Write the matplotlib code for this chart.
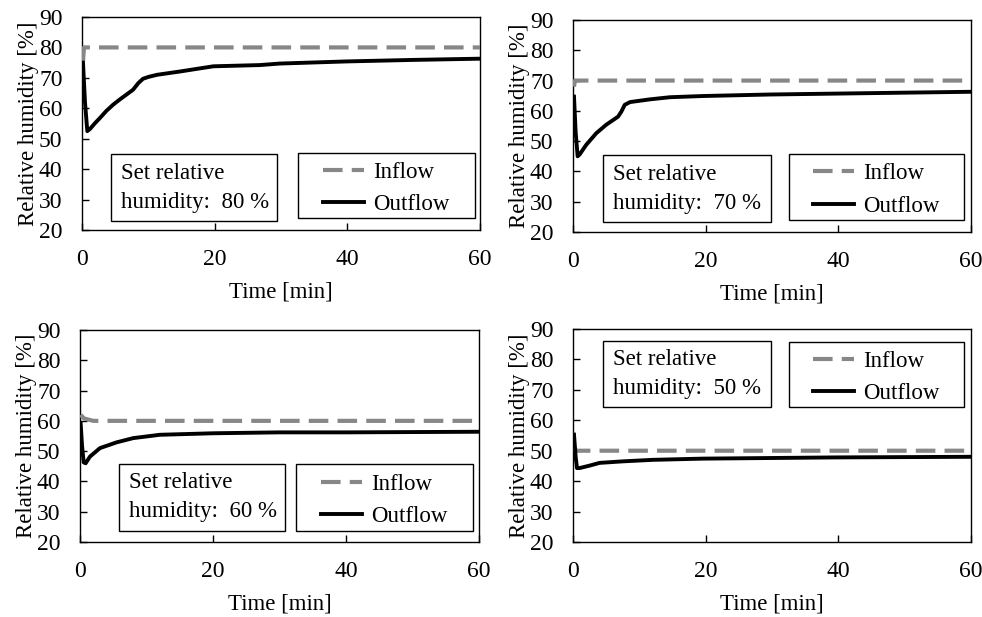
import matplotlib
matplotlib.use("Agg")
import matplotlib.pyplot as plt
from matplotlib.patches import Rectangle

plt.rcParams['font.family'] = ['Liberation Serif', 'DejaVu Serif']

# ---- data ----
set_rh = [80, 70, 60, 50]

t_out80 = [0.15, 0.45, 0.8, 1.2, 2.0, 2.7, 3.7, 4.7, 5.7, 6.7, 7.7, 8.5, 9.2, 10, 11.3, 14.8, 19.8, 26.8, 29.8, 39.9, 50, 60]
out80 = [75.0, 62.0, 52.5, 53.2, 55.2, 56.8, 59.2, 61.2, 62.9, 64.5, 66.1, 68.3, 69.7, 70.3, 71.0, 72.1, 73.8, 74.2, 74.7, 75.4, 75.9, 76.3]
t_in80 = [0.15, 0.3, 60]
in80 = [75.5, 80.0, 80.0]

t_out70 = [0.15, 0.4, 0.7, 1.0, 2.0, 3.5, 5.0, 6.8, 7.3, 7.8, 8.6, 11.6, 14.6, 19.6, 29.7, 39.7, 49.8, 60]
out70 = [64.7, 53.0, 45.0, 45.6, 48.8, 52.6, 55.4, 58.1, 59.8, 62.0, 62.9, 63.8, 64.5, 64.9, 65.4, 65.7, 66.0, 66.3]
t_in70 = [0.15, 0.3, 60]
in70 = [68.0, 70.0, 70.0]

t_out60 = [0.1, 0.3, 0.55, 0.85, 1.5, 3.0, 5.5, 8.0, 12, 20, 30, 40, 50, 60]
out60 = [59.2, 52.0, 46.3, 46.0, 48.2, 51.0, 52.9, 54.3, 55.4, 55.9, 56.2, 56.2, 56.3, 56.4]
t_in60 = [0.1, 0.6, 2.0, 60]
in60 = [62.0, 60.8, 60.0, 60.0]

t_out50 = [0.15, 0.4, 0.6, 1.0, 2.5, 4.0, 7.5, 12, 19.6, 29.7, 39.7, 50, 60]
out50 = [55.3, 48.0, 44.3, 44.3, 45.1, 46.0, 46.5, 47.0, 47.4, 47.6, 47.8, 47.9, 48.0]
t_in50 = [0.15, 0.4, 60]
in50 = [51.5, 50.0, 50.0]

x_ticks = [0, 20, 40, 60]
y_ticks = [20, 30, 40, 50, 60, 70, 80, 90]

panels = [
    dict(rh=set_rh[0], t_in=t_in80, y_in=in80, t_out=t_out80, y_out=out80),
    dict(rh=set_rh[1], t_in=t_in70, y_in=in70, t_out=t_out70, y_out=out70),
    dict(rh=set_rh[2], t_in=t_in60, y_in=in60, t_out=t_out60, y_out=out60),
    dict(rh=set_rh[3], t_in=t_in50, y_in=in50, t_out=t_out50, y_out=out50),
]

# ---- layout (pixels) ----
W, H = 982, 617
axes_px = [(82, 17, 480, 230), (573, 20, 971, 232), (80, 330, 479, 542), (573, 329, 971, 542)]
# text box and legend box in axes fraction (x0, y0, x1, y1)
tbox = [(0.073, 0.042, 0.490, 0.357), (0.075, 0.047, 0.497, 0.363),
        (0.098, 0.052, 0.514, 0.368), (0.075, 0.634, 0.497, 0.944)]
lbox = [(0.543, 0.056, 0.987, 0.362), (0.543, 0.057, 0.982, 0.368),
        (0.541, 0.052, 0.985, 0.368), (0.543, 0.634, 0.982, 0.939)]

fig = plt.figure(figsize=(W / 100, H / 100), dpi=100)

gray = '#878787'
FS = 16.5
for i, p in enumerate(panels):
    x0, y0, x1, y1 = axes_px[i]
    ax = fig.add_axes([x0 / W, (H - y1) / H, (x1 - x0) / W, (y1 - y0) / H])
    ax.plot(p['t_in'], p['y_in'], color=gray, lw=3.0, dashes=(4.7, 2.2), label='Inflow', zorder=3)
    ax.plot(p['t_out'], p['y_out'], color='black', lw=2.8, label='Outflow', zorder=4)
    ax.set_xlim(0, 60)
    ax.set_ylim(20, 90)
    ax.set_xticks(x_ticks)
    ax.set_yticks(y_ticks)
    ax.tick_params(direction='in', length=5, width=1, labelsize=17,
                   top=False, right=False, colors='black')
    ax.tick_params(axis='x', pad=14)
    ax.tick_params(axis='y', pad=14)
    for s in ax.spines.values():
        s.set_linewidth(1.0)
        s.set_color('black')
    ax.set_xlabel('Time [min]', fontsize=FS, labelpad=8)
    ax.set_ylabel('Relative humidity [%]', fontsize=FS, labelpad=0)

    bx0, by0, bx1, by1 = tbox[i]
    ax.add_patch(Rectangle((bx0, by0), bx1 - bx0, by1 - by0, transform=ax.transAxes,
                           fill=True, facecolor='white', edgecolor='black', lw=1.0, zorder=5))
    ax.text(bx0 + 0.026, by0 + (by1 - by0) * 0.5, 'Set relative\nhumidity:  %d %%' % p['rh'],
            transform=ax.transAxes, fontsize=FS, va='center', ha='left',
            linespacing=1.5, zorder=6)

    lx0, ly0, lx1, ly1 = lbox[i]
    ax.add_patch(Rectangle((lx0, ly0), lx1 - lx0, ly1 - ly0, transform=ax.transAxes,
                           fill=True, facecolor='white', edgecolor='black', lw=1.0, zorder=5))
    leg = ax.legend(loc='center', bbox_to_anchor=(lx0, ly0 - 0.015, lx1 - lx0, ly1 - ly0),
                    frameon=False, fontsize=FS, handlelength=1.8, handletextpad=0.4,
                    labelspacing=0.5, borderaxespad=0)
    leg.set_zorder(7)

fig.savefig('out.png', dpi=100)
